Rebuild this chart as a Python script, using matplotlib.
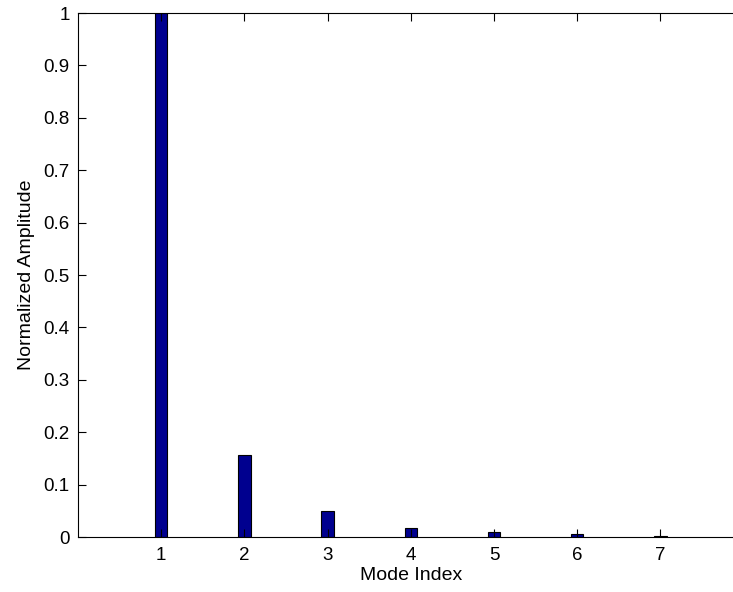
import matplotlib
matplotlib.use("Agg")
import matplotlib.pyplot as plt

modes = [1, 2, 3, 4, 5, 6, 7]
amplitude = [1.0, 0.157, 0.050, 0.0166, 0.010, 0.005, 0.001]
yticks = [0, 0.1, 0.2, 0.3, 0.4, 0.5, 0.6, 0.7, 0.8, 0.9, 1]
ytick_labels = ["0", "0.1", "0.2", "0.3", "0.4", "0.5", "0.6", "0.7", "0.8", "0.9", "1"]

plt.rcParams['font.family'] = ['Liberation Sans', 'DejaVu Sans']
W, H = 733, 592
fig = plt.figure(figsize=(W / 100, H / 100), dpi=100)
left = 78 / W
bottom = (H - 537) / H
height = (537 - 13) / H
width = 8 * 83.2 / W
ax = fig.add_axes([left, bottom, width, height])

ax.bar(modes, amplitude, width=0.15, color='#00008F', edgecolor='black', linewidth=0.8)
ax.set_xlim(0, 8)
ax.set_ylim(0, 1)
ax.set_xticks(modes)
ax.set_yticks(yticks)
ax.set_yticklabels(ytick_labels)
ax.tick_params(direction='in', top=True, right=True, labelsize=13.5, length=6, width=0.8)
ax.tick_params(axis='x', pad=7)
ax.tick_params(axis='y', pad=6)
for s in ax.spines.values():
    s.set_linewidth(0.8)
ax.set_xlabel("Mode Index", fontsize=14, labelpad=2)
ax.set_ylabel("Normalized Amplitude", fontsize=14, labelpad=6)

fig.savefig("out.png", dpi=100)
